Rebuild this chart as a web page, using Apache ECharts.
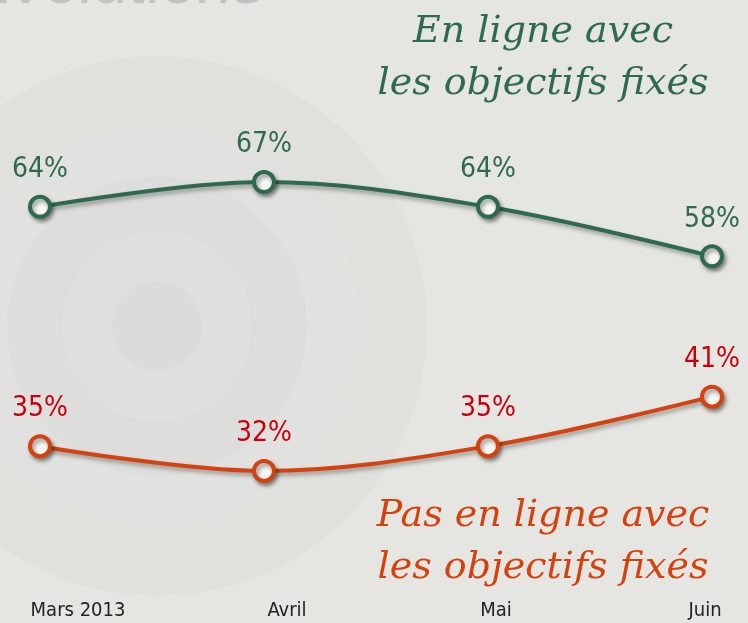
<!DOCTYPE html>
<html>
<head>
<meta charset="utf-8">
<style>
  html, body { margin: 0; padding: 0; background: #e5e5e1; }
  #chart { width: 748px; height: 623px; }
</style>
<script src="https://cdn.jsdelivr.net/npm/echarts@6/dist/echarts.min.js"></script>
</head>
<body>
<div id="chart"></div>
<script>
// months shown under the chart
const months = ["Mars 2013", "Avril", "Mai", "Juin"];
// share of answers, in %
const enLigne = [64, 67, 64, 58];
const pasEnLigne = [35, 32, 35, 41];

const GREEN = "#2e6a4d";
const RED_LINE = "#d4420f";
const RED_TEXT = "#c8000c";

const chart = echarts.init(document.getElementById("chart"), null, { renderer: "canvas" });

function lineSeries(name, data, lineColor, labelColor) {
  return {
    name,
    type: "line",
    xAxisIndex: 0,
    yAxisIndex: 0,
    data,
    smooth: 0.35,
    symbol: "circle",
    symbolSize: 20,
    lineStyle: {
      color: lineColor,
      width: 4,
      shadowColor: "rgba(0,0,0,0.35)",
      shadowBlur: 4,
      shadowOffsetX: 2,
      shadowOffsetY: 3,
    },
    itemStyle: {
      color: "#f7f7f5",
      borderColor: lineColor,
      borderWidth: 4,
      shadowColor: "rgba(0,0,0,0.4)",
      shadowBlur: 4,
      shadowOffsetX: 2,
      shadowOffsetY: 3,
    },
    label: {
      show: true,
      position: "top",
      distance: 11,
      formatter: "{c}%",
      color: labelColor,
      fontFamily: "DejaVu Sans Condensed",
      fontSize: 28,
    },
    emphasis: { disabled: true },
    z: 3,
  };
}

// faint target rings in the background
const rings = [
  { r: 270, c: "rgba(120,120,110,0.035)" },
  { r: 200, c: "rgba(255,255,255,0.06)" },
  { r: 150, c: "rgba(120,120,110,0.03)" },
  { r: 95, c: "rgba(255,255,255,0.06)" },
  { r: 45, c: "rgba(120,120,110,0.035)" },
].map(({ r, c }) => ({
  type: "circle",
  shape: { cx: 157, cy: 326, r },
  style: { fill: c },
  silent: true,
  z: -10,
}));

const option = {
  backgroundColor: "#e5e5e1",
  animation: false,
  graphic: [
    ...rings,
    {
      type: "text",
      x: -30,
      y: 17,
      style: {
        text: "Évolutions",
        font: "italic 64px 'Liberation Sans'",
        fill: "#c2c2c0",
        verticalAlign: "bottom",
      },
      silent: true,
      z: -5,
    },
    {
      type: "text",
      x: 543,
      y: 6,
      style: {
        text: "En ligne avec\nles objectifs fixés",
        font: "italic 38px 'DejaVu Serif'",
        lineHeight: 52,
        fill: GREEN,
        align: "center",
      },
    },
    {
      type: "text",
      x: 543,
      y: 490,
      style: {
        text: "Pas en ligne avec\nles objectifs fixés",
        font: "italic 38px 'DejaVu Serif'",
        lineHeight: 52,
        fill: RED_LINE,
        align: "center",
      },
    },
  ],
  grid: [
    { left: 40, right: 36, top: 116, bottom: 53 },
    { left: 78, right: 43, top: 597, height: 1 },
  ],
  xAxis: [
    {
      gridIndex: 0,
      type: "category",
      data: months,
      boundaryGap: false,
      axisLine: { show: false },
      axisTick: { show: false },
      axisLabel: { show: false },
    },
    {
      gridIndex: 1,
      type: "category",
      data: months,
      boundaryGap: false,
      axisLine: { show: false },
      axisTick: { show: false },
      axisLabel: {
        margin: 3,
        color: "#222",
        fontFamily: "DejaVu Sans Condensed",
        fontSize: 20,
        verticalAlign: "top",
      },
    },
  ],
  yAxis: [
    { gridIndex: 0, type: "value", min: 20, max: 75, show: false },
    { gridIndex: 1, type: "value", show: false },
  ],
  series: [
    lineSeries("En ligne avec les objectifs fixés", enLigne, GREEN, GREEN),
    lineSeries("Pas en ligne avec les objectifs fixés", pasEnLigne, RED_LINE, RED_TEXT),
  ],
};

chart.setOption(option);
</script>
</body>
</html>
